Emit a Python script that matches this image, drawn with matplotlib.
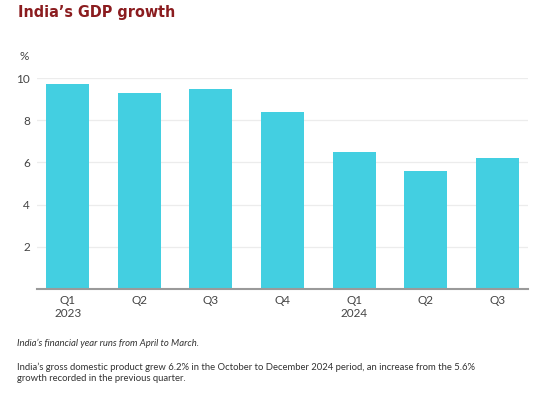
import matplotlib
matplotlib.use("Agg")
import matplotlib.pyplot as plt
from matplotlib import font_manager

quarters = ["Q1", "Q2", "Q3", "Q4", "Q1", "Q2", "Q3"]
years = ["2023", "", "", "", "2024", "", ""]
growth = [9.7, 9.3, 9.5, 8.4, 6.5, 5.6, 6.2]
yticks = [2, 4, 6, 8, 10]

plt.rcParams['font.family'] = ['Lato', 'DejaVu Sans']

names = sorted(set((f.name, f.stretch, f.weight) for f in font_manager.fontManager.ttflist))
print([n for n in names if 'arrow' in str(n[0]).lower() or 'ondens' in str(n[0]).lower() or n[1] != 'normal'])

fig = plt.figure(figsize=(5.5, 3.93), dpi=100)
ax = fig.add_axes([37/550, 104/393, 491/550, 211/393])

x = list(range(len(growth)))
ax.bar(x, growth, width=0.6, color="#43cfe1", zorder=2)
ax.set_xlim(-0.43, len(growth) - 1 + 0.43)
ax.set_ylim(0, 10)
ax.set_yticks(yticks)
ax.set_yticklabels([str(t) for t in yticks], fontsize=8.5, color="#444444")
ax.set_xticks(x)
labels = [q + ("\n" + y if y else "") for q, y in zip(quarters, years)]
ax.set_xticklabels(labels, fontsize=8.5, color="#444444", va="top", linespacing=1.3)
ax.tick_params(axis="both", length=0)
ax.tick_params(axis="y", pad=5)
ax.tick_params(axis="x", pad=4)
ax.grid(axis="y", color="#ececec", linewidth=0.9, zorder=0)
ax.set_axisbelow(True)
for s in ["top", "right", "left"]:
    ax.spines[s].set_visible(False)
ax.spines["bottom"].set_color("#9a9a9a")
ax.spines["bottom"].set_linewidth(1.5)
ax.spines["bottom"].set_zorder(3)

fig.text(18/550, 1 - 13/393, "India\u2019s GDP growth", fontsize=11.5, fontweight="bold",
         fontstretch="condensed", color="#8b1c1f", family=["DejaVu Sans"], va="center", ha="left")
fig.text(19/550, 1 - 57/393, "%", fontsize=8.5, color="#444444", va="center", ha="left")
fig.text(17/550, 1 - 343/393, "India\u2019s financial year runs from April to March.", fontsize=6.8,
         style="italic", color="#333333", va="center", ha="left")
fig.text(17/550, 1 - 373/393,
         "India\u2019s gross domestic product grew 6.2% in the October to December 2024 period, an increase from the 5.6%\ngrowth recorded in the previous quarter.",
         fontsize=6.8, color="#333333", va="center", ha="left", linespacing=1.3)

fig.savefig("out.png", dpi=100)
